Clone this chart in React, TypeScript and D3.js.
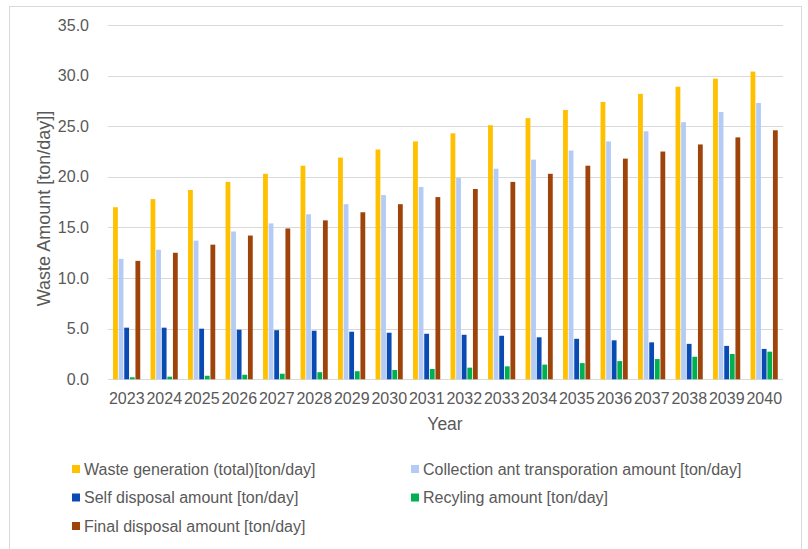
import React from "react";
import * as d3 from "d3";

const years = ["2023","2024","2025","2026","2027","2028","2029","2030","2031","2032","2033","2034","2035","2036","2037","2038","2039","2040"];

const wasteGeneration = [17.0, 17.8, 18.7, 19.5, 20.3, 21.1, 21.9, 22.7, 23.5, 24.3, 25.1, 25.8, 26.6, 27.4, 28.2, 28.9, 29.7, 30.4];
const collection = [11.9, 12.8, 13.7, 14.6, 15.4, 16.3, 17.3, 18.2, 19.0, 19.9, 20.8, 21.7, 22.6, 23.5, 24.5, 25.4, 26.4, 27.3];
const selfDisposal = [5.1, 5.1, 5.0, 4.9, 4.85, 4.8, 4.7, 4.6, 4.5, 4.4, 4.3, 4.15, 4.0, 3.85, 3.65, 3.5, 3.3, 3.0];
const recycling = [0.2, 0.26, 0.35, 0.45, 0.55, 0.7, 0.8, 0.92, 1.02, 1.15, 1.28, 1.45, 1.6, 1.8, 2.0, 2.23, 2.5, 2.73];
const finalDisposal = [11.7, 12.5, 13.3, 14.2, 14.9, 15.7, 16.5, 17.3, 18.0, 18.8, 19.5, 20.3, 21.1, 21.8, 22.5, 23.2, 23.9, 24.6];

const yTicks = [0, 5, 10, 15, 20, 25, 30, 35];

const series = [
  { name: "Waste generation (total)[ton/day]", values: wasteGeneration, color: "#ffc000" },
  { name: "Collection ant transporation amount [ton/day]", values: collection, color: "#b4ccf5" },
  { name: "Self disposal amount [ton/day]", values: selfDisposal, color: "#0a4bb3" },
  { name: "Recyling amount [ton/day]", values: recycling, color: "#00b050" },
  { name: "Final disposal amount [ton/day]", values: finalDisposal, color: "#9e430a" },
];

const font = "'Liberation Sans', Arial, sans-serif";
const textColor = "#595959";

export default function App() {
  const width = 808;
  const height = 549;

  const x = d3.scaleBand().domain(years).range([108, 783]).paddingInner(0).paddingOuter(0);
  const y = d3.scaleLinear().domain([0, 35]).range([379.3, 25]);

  // group of 5 bars inside each band
  const groupWidth = 28;
  const inner = d3
    .scaleBand()
    .domain(series.map((s) => s.name))
    .range([(x.bandwidth() - groupWidth) / 2, (x.bandwidth() + groupWidth) / 2]);

  // legend layout: two columns
  const legendPos = (i: number) => {
    const col = i % 2;
    const row = Math.floor(i / 2);
    return { x: col === 0 ? 72 : 411, y: 469 + row * 28.5 };
  };

  return (
    <svg width={width} height={height} style={{ position: "absolute", left: 0, top: 0 }} fontFamily={font}>
      <rect x={0} y={0} width={width} height={height} fill="#fff" />
      <rect x={9.5} y={6.5} width={792} height={570} fill="#fff" stroke="#d9d9d9" strokeWidth={1} />

      {/* gridlines */}
      <g>
        {yTicks.map((t) => (
          <line key={t} x1={108} x2={783} y1={Math.round(y(t)) + 0.5} y2={Math.round(y(t)) + 0.5} stroke="#d9d9d9" strokeWidth={1} />
        ))}
      </g>

      {/* y tick labels */}
      <g fill={textColor} fontSize={16} textAnchor="end">
        {yTicks.map((t) => (
          <text key={t} x={89} y={y(t)} dy="0.35em">
            {t.toFixed(1)}
          </text>
        ))}
      </g>

      {/* bars */}
      <g>
        {years.map((yr, i) => (
          <g key={yr} transform={`translate(${x(yr)},0)`}>
            {series.map((s) => (
              <rect
                key={s.name}
                x={(inner(s.name) ?? 0) + 0.3}
                y={y(s.values[i])}
                width={inner.bandwidth() - 0.8}
                height={y(0) - y(s.values[i])}
                fill={s.color}
              />
            ))}
          </g>
        ))}
      </g>

      {/* x tick labels */}
      <g fill={textColor} fontSize={16} textAnchor="middle">
        {years.map((yr) => (
          <text key={yr} x={(x(yr) ?? 0) + x.bandwidth() / 2} y={404}>
            {yr}
          </text>
        ))}
      </g>

      {/* axis titles */}
      <text x={445} y={430} fill={textColor} fontSize={17.5} textAnchor="middle">
        Year
      </text>
      <text
        transform={`translate(50,208.5) rotate(-90)`}
        fill={textColor}
        fontSize={18}
        textAnchor="middle"
      >
        Waste Amount [ton/day]]
      </text>

      {/* legend */}
      <g fontSize={16} fill={textColor}>
        {series.map((s, i) => {
          const p = legendPos(i);
          return (
            <g key={s.name} transform={`translate(${p.x},${p.y})`}>
              <rect x={0} y={-4} width={8} height={8} fill={s.color} />
              <text x={12} y={0} dy="0.35em">
                {s.name}
              </text>
            </g>
          );
        })}
      </g>
    </svg>
  );
}
